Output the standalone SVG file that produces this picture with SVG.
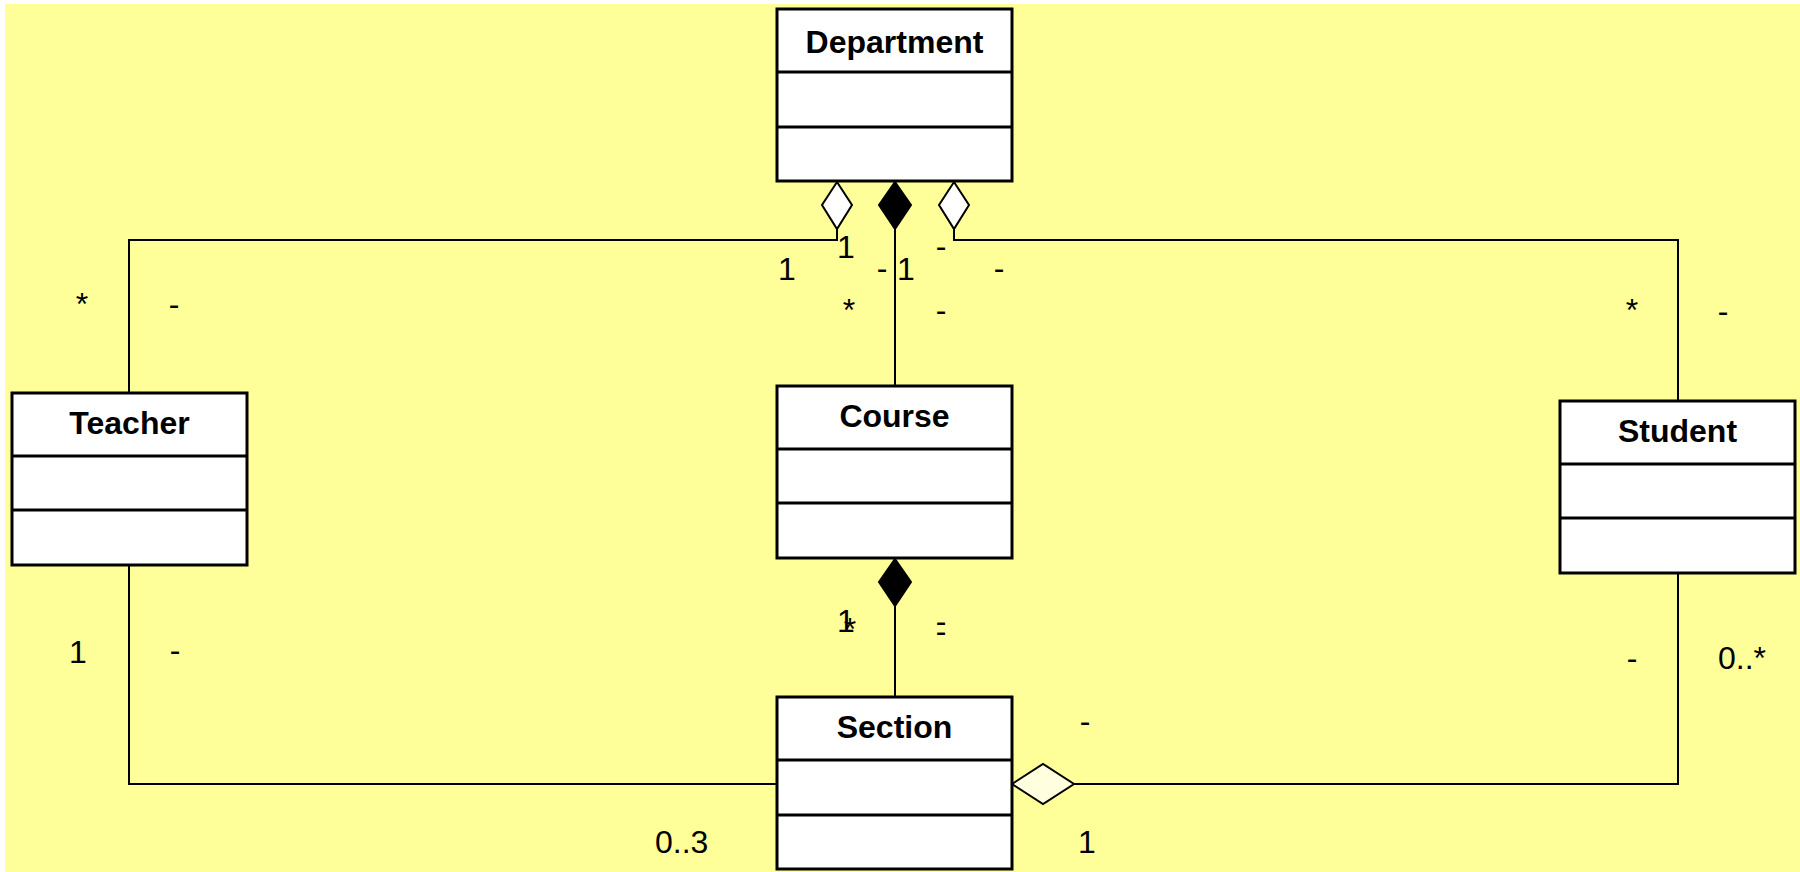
<svg xmlns="http://www.w3.org/2000/svg" width="1800" height="872" viewBox="0 0 1800 872">
<style>
.box{fill:#fff;stroke:#000;stroke-width:3}
.div{stroke:#000;stroke-width:3}
.title{font-family:"Liberation Sans",Arial,sans-serif;font-size:32px;font-weight:bold;text-anchor:middle;fill:#000}
.lbl{font-family:"Liberation Sans",Arial,sans-serif;font-size:32px;fill:#000}
.c{text-anchor:middle}
.ln{fill:none;stroke:#000;stroke-width:2}
.agg{fill:#fff;stroke:#000;stroke-width:2}
.comp{fill:#000;stroke:#000;stroke-width:2}
</style>
<rect x="5" y="4" width="1795" height="868" fill="#FFFF99"/>
<g id="connectors">
  <polyline class="ln" points="837,229 837,240 129,240 129,393"/>
  <polyline class="ln" points="895,229 895,386"/>
  <polyline class="ln" points="954,229 954,240 1678,240 1678,401"/>
  <polyline class="ln" points="895,606 895,697"/>
  <polyline class="ln" points="129,565 129,784 777,784"/>
  <polyline class="ln" points="1678,573 1678,784 1074,784"/>
  <polygon class="agg" points="837,182 852,205 837,229 822,205"/>
  <polygon class="comp" points="895,182 911,205 895,229 879,205"/>
  <polygon class="agg" points="954,182 969,205 954,229 939,205"/>
  <polygon class="comp" points="895,559 911,582 895,606 879,582"/>
  <polygon class="agg" points="1012,784 1043,764 1074,784 1043,804" style="fill:#FFFFE0"/>
  <text class="lbl c" x="82" y="315">*</text>
  <text class="lbl c" x="174" y="315">-</text>
  <text class="lbl c" x="787" y="280">1</text>
  <text class="lbl c" x="846" y="258">1</text>
  <text class="lbl c" x="882" y="279">-</text>
  <text class="lbl c" x="906" y="280">1</text>
  <text class="lbl c" x="849" y="321">*</text>
  <text class="lbl c" x="941" y="257">-</text>
  <text class="lbl c" x="999" y="279">-</text>
  <text class="lbl c" x="941" y="321">-</text>
  <text class="lbl c" x="1632" y="321">*</text>
  <text class="lbl c" x="1723" y="322">-</text>
  <text class="lbl c" x="78" y="663">1</text>
  <text class="lbl c" x="175" y="661">-</text>
  <text class="lbl c" x="846" y="632">1</text>
  <text class="lbl c" x="850" y="640">*</text>
  <text class="lbl c" x="941" y="632">-</text>
  <text class="lbl c" x="941" y="642">-</text>
  <text class="lbl c" x="1632" y="669">-</text>
  <text class="lbl" x="1718" y="669">0..*</text>
  <text class="lbl c" x="1085" y="732">-</text>
  <text class="lbl c" x="1087" y="853">1</text>
  <text class="lbl" x="655" y="853">0..3</text>
</g>
<g id="Department">
  <rect class="box" x="777" y="9" width="235" height="172"/>
  <line class="div" x1="777" y1="72" x2="1012" y2="72"/>
  <line class="div" x1="777" y1="127" x2="1012" y2="127"/>
  <text class="title" x="894.5" y="53">Department</text>
</g>
<g id="Teacher">
  <rect class="box" x="12" y="393" width="235" height="172"/>
  <line class="div" x1="12" y1="456" x2="247" y2="456"/>
  <line class="div" x1="12" y1="510" x2="247" y2="510"/>
  <text class="title" x="129.5" y="434">Teacher</text>
</g>
<g id="Course">
  <rect class="box" x="777" y="386" width="235" height="172"/>
  <line class="div" x1="777" y1="449" x2="1012" y2="449"/>
  <line class="div" x1="777" y1="503" x2="1012" y2="503"/>
  <text class="title" x="894.5" y="427">Course</text>
</g>
<g id="Student">
  <rect class="box" x="1560" y="401" width="235" height="172"/>
  <line class="div" x1="1560" y1="464" x2="1795" y2="464"/>
  <line class="div" x1="1560" y1="518" x2="1795" y2="518"/>
  <text class="title" x="1677.5" y="442">Student</text>
</g>
<g id="Section">
  <rect class="box" x="777" y="697" width="235" height="172"/>
  <line class="div" x1="777" y1="760" x2="1012" y2="760"/>
  <line class="div" x1="777" y1="815" x2="1012" y2="815"/>
  <text class="title" x="894.5" y="738">Section</text>
</g>
</svg>
